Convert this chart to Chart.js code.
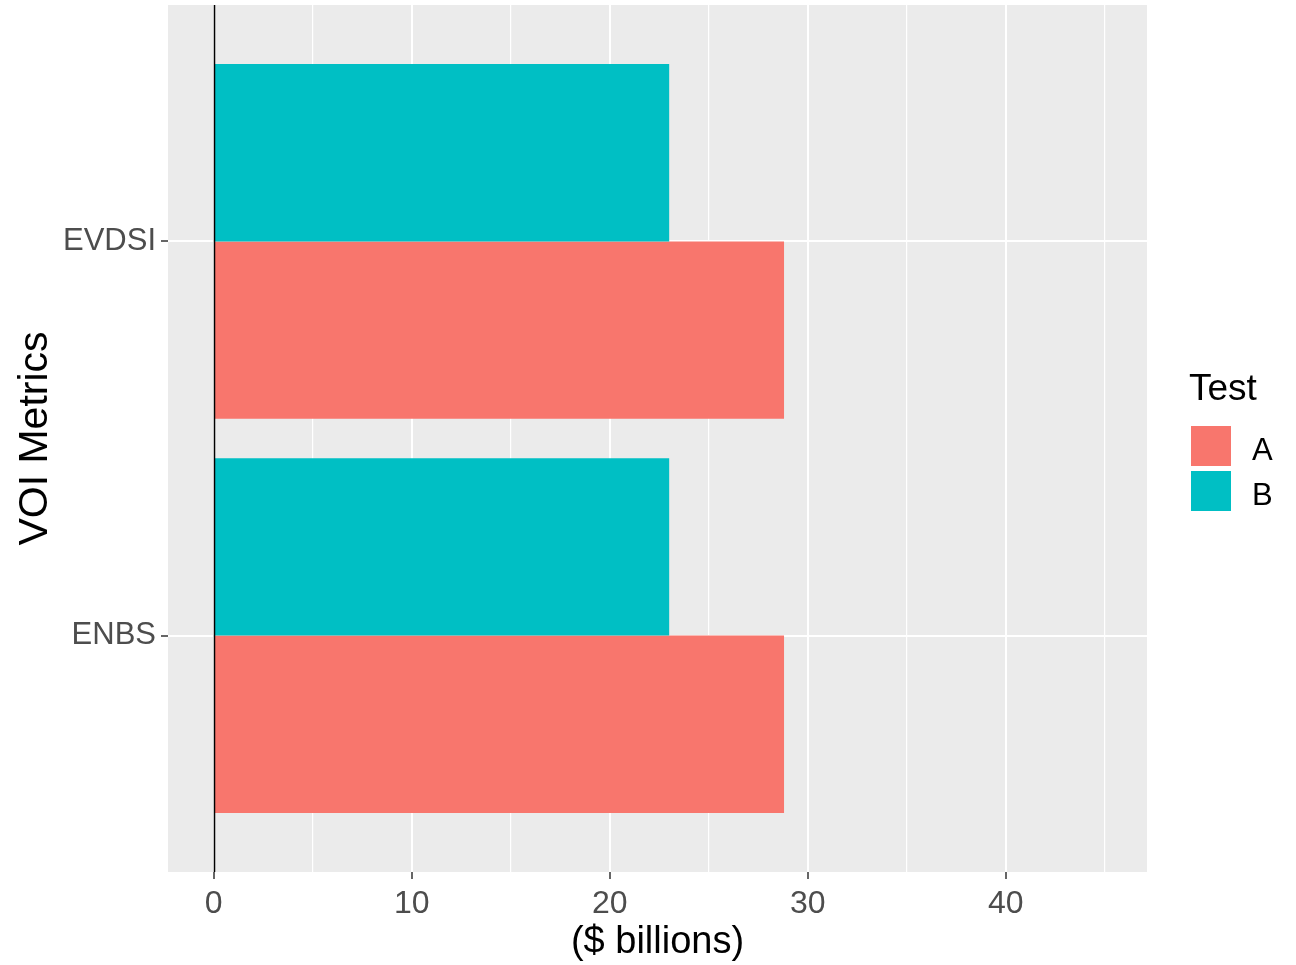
<!DOCTYPE html>
<html>
<head>
<meta charset="utf-8">
<title>VOI Metrics</title>
<script src="https://cdn.jsdelivr.net/npm/chart.js@4.4.1/dist/chart.umd.min.js"></script>
<style>
  html, body { margin: 0; padding: 0; background: #ffffff; }
  #wrap { width: 1296px; height: 965px; position: relative; }
</style>
</head>
<body>
<div id="wrap"><canvas id="chart"></canvas></div>
<script>
// Metrics, listed top to bottom
const categories = ['EVDSI', 'ENBS'];
// Values per test ($ billions), in the same order as categories
const testA = [28.8, 28.8];
const testB = [23.0, 23.0];
const seriesNames = ['A', 'B'];
const seriesColors = ['#F8766D', '#00BFC4'];
// Numeric x-axis tick labels (major) and minor grid positions
const xMajorTicks = [0, 10, 20, 30, 40];
const xMinorTicks = [5, 15, 25, 35, 45];

const FONT = "'Liberation Sans', Arial, Helvetica, sans-serif";
Chart.defaults.font.family = FONT;

// Place each category at an integer position, first category at the top
const catPos = categories.map((c, i) => categories.length - i);
const toPoints = vals => vals.map((v, i) => ({ x: v, y: catPos[i] }));

// Grey panel background
const panelBg = {
  id: 'panelBg',
  beforeDraw(chart) {
    const { ctx, chartArea: a } = chart;
    ctx.save();
    ctx.fillStyle = '#EBEBEB';
    ctx.fillRect(a.left, a.top, a.right - a.left, a.bottom - a.top);
    ctx.restore();
  }
};

// Reference line at zero
const zeroLine = {
  id: 'zeroLine',
  afterDatasetsDraw(chart) {
    const { ctx, chartArea: a, scales } = chart;
    const x = Math.round(scales.x.getPixelForValue(0)) + 0.5;
    ctx.save();
    ctx.strokeStyle = '#000000';
    ctx.lineWidth = 1.5;
    ctx.beginPath();
    ctx.moveTo(x, a.top);
    ctx.lineTo(x, a.bottom);
    ctx.stroke();
    ctx.restore();
  }
};

// Legend in the right margin
const sideLegend = {
  id: 'sideLegend',
  afterDraw(chart) {
    const { ctx } = chart;
    ctx.save();
    ctx.textAlign = 'left';
    ctx.textBaseline = 'alphabetic';
    ctx.fillStyle = '#000000';
    ctx.font = '37px ' + FONT;
    ctx.fillText('Test', 1189, 400);
    seriesNames.forEach((name, i) => {
      const y = 426 + i * 45;
      ctx.fillStyle = seriesColors[i];
      ctx.fillRect(1191, y, 40, 40);
      ctx.fillStyle = '#000000';
      ctx.font = '31px ' + FONT;
      ctx.fillText(name, 1252, y + 34);
    });
    ctx.restore();
  }
};

new Chart(document.getElementById('chart'), {
  type: 'bar',
  data: {
    datasets: [
      { label: seriesNames[1], data: toPoints(testB), backgroundColor: seriesColors[1], borderWidth: 0 },
      { label: seriesNames[0], data: toPoints(testA), backgroundColor: seriesColors[0], borderWidth: 0 }
    ]
  },
  options: {
    indexAxis: 'y',
    responsive: true,
    maintainAspectRatio: false,
    animation: false,
    events: [],
    layout: { padding: { left: 0, right: 149, top: 5, bottom: 0 } },
    datasets: { bar: { categoryPercentage: 0.9, barPercentage: 1.0 } },
    plugins: { legend: { display: false }, tooltip: { enabled: false } },
    scales: {
      x: {
        type: 'linear',
        min: -2.31,
        max: 47.13,
        offset: false,
        border: { display: false },
        afterBuildTicks(scale) {
          scale.ticks = xMajorTicks.concat(xMinorTicks).sort((a, b) => a - b).map(v => ({ value: v }));
        },
        afterFit(scale) { scale.height = 93; scale.paddingLeft = 0; scale.paddingRight = 0; },
        grid: {
          offset: false,
          color: '#FFFFFF',
          lineWidth: c => (c.tick && xMajorTicks.includes(c.tick.value)) ? 2 : 1.2,
          tickColor: c => (c.tick && xMajorTicks.includes(c.tick.value)) ? '#333333' : 'rgba(0,0,0,0)',
          tickWidth: 1.5,
          tickLength: 7,
          drawTicks: true
        },
        ticks: {
          autoSkip: false,
          maxRotation: 0,
          padding: 6,
          color: '#4D4D4D',
          font: { size: 32 },
          callback: v => xMajorTicks.includes(v) ? String(v) : ''
        },
        title: {
          display: true,
          text: '($ billions)',
          color: '#000000',
          font: { size: 38 },
          padding: { top: 0, bottom: 0 }
        }
      },
      y: {
        type: 'linear',
        min: 0.4,
        max: categories.length + 0.6,
        offset: false,
        border: { display: false },
        afterBuildTicks(scale) {
          scale.ticks = catPos.map(v => ({ value: v })).sort((a, b) => a.value - b.value);
        },
        afterFit(scale) { scale.width = 168; scale.paddingTop = 0; scale.paddingBottom = 0; },
        grid: {
          offset: false,
          color: '#FFFFFF',
          lineWidth: 2,
          tickColor: '#333333',
          tickWidth: 1.5,
          tickLength: 7,
          drawTicks: true
        },
        ticks: {
          autoSkip: false,
          padding: 5,
          color: '#4D4D4D',
          font: { size: 31 },
          callback: v => {
            const i = catPos.indexOf(v);
            return i >= 0 ? categories[i] : '';
          }
        },
        title: {
          display: true,
          text: 'VOI Metrics',
          color: '#000000',
          font: { size: 41 },
          padding: { top: 11, bottom: 0 }
        }
      }
    }
  },
  plugins: [panelBg, zeroLine, sideLegend]
});
</script>
</body>
</html>
